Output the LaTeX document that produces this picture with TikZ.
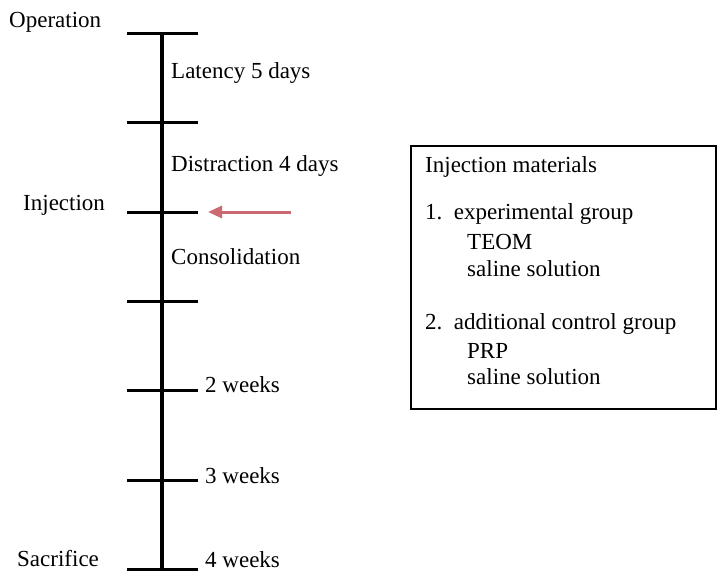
\documentclass[tikz,border=0pt]{standalone}
\usepackage{fontspec}
\setmainfont{Liberation Serif}
\usepackage{xcolor}
\usetikzlibrary{arrows.meta, positioning, calc}
\definecolor{arrowred}{RGB}{205,105,112}
\tikzset{
  tick/.style={line width=3pt},
  axis/.style={line width=3.6pt},
  lbl/.style={anchor=west, inner sep=0pt},
  matbox/.style={draw, line width=2.4pt, minimum width=305pt, minimum height=263pt, inner sep=0pt},
  pointer/.style={-{Triangle[length=14pt, width=12pt]}, line width=3pt, arrowred}
}

\begin{document}
\begin{tikzpicture}[x=1pt, y=-1pt, font=\fontsize{23}{27}\selectfont]
        \useasboundingbox (0,0) rectangle (717,572);

        % Timeline
        \foreach \i/\yy in {0/34, 1/123, 2/212, 3/301, 4/390, 5/480, 6/569} {
          \coordinate (t\i) at (162,\yy);
          \draw[tick] (127,\yy) -- (198,\yy);
        }
        \draw[axis] (t0) -- (t6);

        % Labels on the left
        \node[lbl] (operation) at (9,22)  {Operation};
        \node[lbl] (injection) at (23,205) {Injection};
        \node[lbl] (sacrifice) at (17,559) {Sacrifice};

        % Phases
        \node[lbl] (latency)  at (171,73)  {Latency 5 days};
        \node[lbl] (distract) at (171,166) {Distraction 4 days};
        \node[lbl] (consol)   at (171,257) {Consolidation};
        \node[lbl] (wk2) at (205,385) {2 weeks};
        \node[lbl] (wk3) at (205,476) {3 weeks};
        \node[lbl] (wk4) at (205,560) {4 weeks};

        % Arrow at injection
        \coordinate (arrS) at (291,212);
        \coordinate (arrE) at (208,212);
        \draw[pointer] (arrS) -- (arrE);

        % Injection materials
        \node[matbox] (mat) at (563.5,277.5) {};
        \node[lbl] (mtitle) at (425,167) {Injection materials};
        \node[lbl] (g1)  at (425,214) {1.\ \ experimental group};
        \node[lbl] (g1a) at (467,242) {TEOM};
        \node[lbl] (g1b) at (467,269) {saline solution};
        \node[lbl] (g2)  at (425,324) {2.\ \ additional control group};
        \node[lbl] (g2a) at (467,351) {PRP};
        \node[lbl] (g2b) at (467,377) {saline solution};
    \end{tikzpicture}
\end{document}
